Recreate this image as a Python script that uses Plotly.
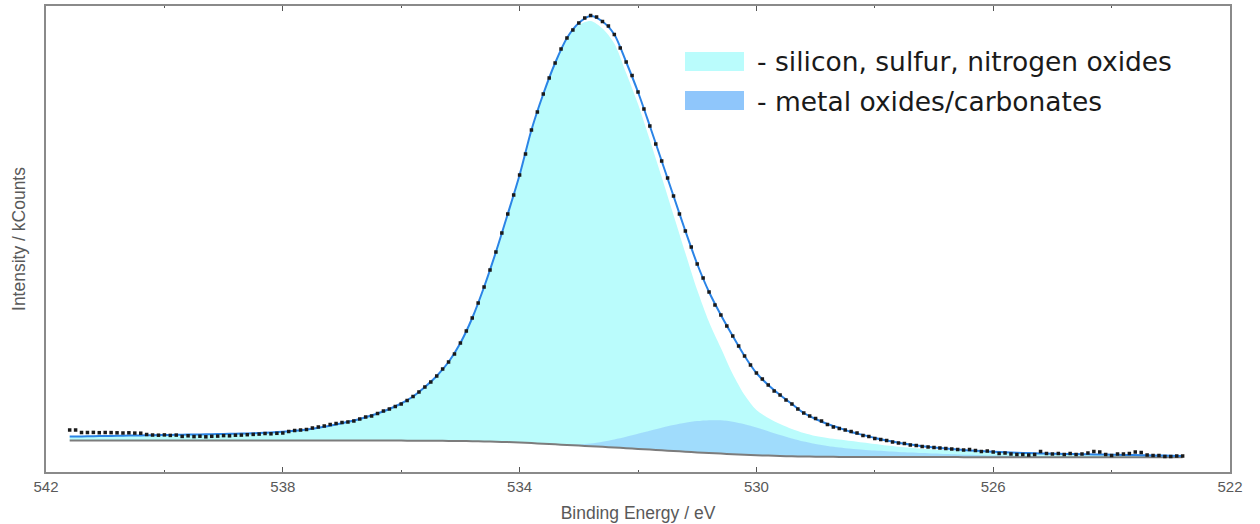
import numpy as np
import plotly.graph_objects as go

# Measured O 1s region, 0.1 eV steps from 541.6 eV down to 522.8 eV
be_start, be_stop = 541.6, 522.8
counts = [
    42, 42, 39.5, 39.5, 39.6, 39.3, 39.5, 39.4, 39.2, 39.0,
    39.2, 38.9, 38.8, 37.5, 37.0, 36.8, 37.1, 36.6, 36.9, 35.6,
    36.2, 35.4, 35.8, 35.2, 35.7, 35.9, 36.4, 36.2, 36.8, 36.9,
    37.3, 37.6, 37.9, 38.5, 38.2, 38.7, 39.0, 40.5, 41.5, 42.0,
    42.5, 44.0, 45.0, 46.0, 47.5, 48.5, 49.5, 50.0, 51.0, 53.0,
    55.0, 56.0, 58.5, 61.0, 63.0, 65.5, 68.0, 71.5, 75.5, 80.0,
    85.0, 90.0, 96.0, 103, 110, 118, 129, 141, 154, 169,
    185, 202, 220, 239, 258, 277, 297, 318, 342, 360,
    378, 394, 409, 423, 434, 442, 449, 454, 456.5, 455,
    450.5, 446, 437.5, 424, 410, 396.5, 380, 363, 346, 328,
    311, 294, 276, 258, 241, 225, 208, 194, 180, 167,
    157, 146, 136, 126, 116, 107, 99, 93, 87, 81,
    77, 72, 68, 63, 59, 56, 53.5, 51, 47.5, 45,
    43.5, 42, 40.5, 39, 36.5, 35.5, 33.5, 32.5, 31.5, 30,
    29, 28.5, 27, 26.5, 25.5, 25, 24.5, 24, 23.5, 23,
    22.5, 22, 22.5, 21.5, 20.5, 21, 20, 18.5, 19, 18,
    17.5, 17.5, 17, 17.5, 20.5, 18.5, 18, 18.5, 17.5, 18.5,
    17.5, 18, 19, 20.5, 20, 17.5, 16.5, 18, 18, 18.5,
    20, 19.5, 17, 16.5, 16.5, 15.5, 15.5, 16, 16,
]

# Fit curves, 0.2 eV steps over the same energy window
envelope = [
    35.5, 35.6, 35.8, 36.0, 36.2, 36.4, 36.6, 36.8, 37.0, 37.2,
    37.4, 37.6, 37.8, 38.0, 38.3, 38.6, 39.0, 39.5, 40.2, 41.2,
    42.5, 44.2, 46.3, 48.8, 51.5, 54.8, 58.5, 63.0, 68.5, 75.5,
    85, 96, 110, 129, 154, 185, 220, 258, 297, 342,
    378, 409, 434, 449, 456, 450.5, 437.5, 410, 380, 346,
    311, 276, 241, 208, 180, 157, 136, 116, 99, 87,
    77, 68, 59, 53, 48, 44, 40, 37, 34, 31.5,
    29.3, 27.4, 25.8, 24.5, 23.4, 22.4, 21.6, 20.9, 20.3, 19.8,
    19.3, 18.9, 18.6, 18.3, 18.1, 17.9, 17.7, 17.5, 17.3, 17.1,
    16.9, 16.7, 16.5, 16.3, 16.1,
]
oxides_si_s_n = [
    35.5, 35.6, 35.8, 36.0, 36.2, 36.4, 36.6, 36.8, 37.0, 37.2,
    37.4, 37.6, 37.8, 38.0, 38.3, 38.6, 39.0, 39.5, 40.2, 41.2,
    42.5, 44.2, 46.3, 48.8, 51.5, 54.8, 58.5, 63.0, 68.5, 75.5,
    85, 96, 110, 129, 154, 185, 220, 258, 297, 342,
    378, 409, 434, 447, 451, 443.5, 428.5, 399, 368, 332,
    295, 257, 219, 182, 150, 124, 98, 77, 62, 54,
    48, 43, 39, 36, 34, 32.5, 31, 29.5, 28, 26.5,
    25.3, 24.2, 23.2, 22.5, 21.9, 21.2, 20.6, 20.1, 19.7, 19.3,
    18.9, 18.5, 18.2, 17.9, 17.7, 17.5, 17.3, 17.1, 16.9, 16.7,
    16.5, 16.3, 16.1, 15.9, 15.7,
]
metal_oxides = [
    31.6, 31.6, 31.6, 31.6, 31.6, 31.6, 31.6, 31.6, 31.6, 31.6,
    31.6, 31.6, 31.6, 31.6, 31.6, 31.6, 31.6, 31.6, 31.6, 31.6,
    31.6, 31.5, 31.5, 31.5, 31.5, 31.4, 31.4, 31.4, 31.4, 31.3,
    31.3, 31.2, 31.1, 31.0, 30.8, 30.6, 30.3, 29.9, 29.5, 28.9,
    28.3, 27.8, 27.4, 27.6, 28.5, 30.3, 32.6, 35.3, 38.2, 41.2,
    44.2, 46.9, 49.2, 50.9, 51.8, 51.7, 50.3, 47.8, 44.5, 40.8,
    37.0, 33.5, 30.4, 27.9, 25.9, 24.4, 23.2, 22.2, 21.4, 20.7,
    20.1, 19.5, 19.0, 18.5, 18.0, 17.6, 17.2, 16.8, 16.5, 16.2,
    15.9, 15.7, 15.5, 15.3, 15.2, 15.1, 15.0, 14.9, 14.9, 14.8,
    14.8, 14.8, 14.8, 14.8, 14.8,
]
background = [
    31.6, 31.6, 31.6, 31.6, 31.6, 31.6, 31.6, 31.6, 31.6, 31.6,
    31.6, 31.6, 31.6, 31.6, 31.6, 31.6, 31.6, 31.6, 31.6, 31.6,
    31.6, 31.5, 31.5, 31.5, 31.5, 31.4, 31.4, 31.4, 31.4, 31.3,
    31.3, 31.2, 31.1, 31.0, 30.8, 30.6, 30.3, 29.9, 29.5, 28.9,
    28.3, 27.7, 27.0, 26.4, 25.8, 25.2, 24.5, 23.8, 23.1, 22.4,
    21.7, 21.0, 20.3, 19.6, 19.0, 18.4, 17.8, 17.3, 16.8, 16.4,
    16.0, 15.7, 15.5, 15.3, 15.2, 15.1, 15.0, 15.0, 14.9, 14.9,
    14.9, 14.9, 14.9, 14.9, 14.9, 14.9, 14.8, 14.8, 14.8, 14.8,
    14.8, 14.8, 14.8, 14.8, 14.8, 14.8, 14.8, 14.8, 14.8, 14.8,
    14.8, 14.8, 14.8, 14.8, 14.8,
]

x_ticks = [542, 538, 534, 530, 526, 522]
legend_labels = ["- silicon, sulfur, nitrogen oxides", "- metal oxides/carbonates"]

CYAN = "#bafcfc"
METAL = "rgba(143,198,251,0.6)"
METAL_KEY = "#8fc6fb"
FIT_BLUE = "#2b84e6"
AXIS_GREY = "#8a8a8a"
TEXT_GREY = "#595959"

be_data = np.round(np.linspace(be_start, be_stop, len(counts)), 2)
be_fit = np.round(np.linspace(be_start, be_stop, len(envelope)), 2)

fig = go.Figure()
spline = dict(shape="spline", smoothing=0.8)

# Component areas, each filled down to the background
fig.add_trace(go.Scatter(x=be_fit, y=background, mode="lines",
                         line=dict(width=0, **spline), hoverinfo="skip", showlegend=False))
fig.add_trace(go.Scatter(x=be_fit, y=oxides_si_s_n, mode="lines", fill="tonexty",
                         fillcolor=CYAN, line=dict(width=0, **spline),
                         name=legend_labels[0], showlegend=False))
fig.add_trace(go.Scatter(x=be_fit, y=background, mode="lines",
                         line=dict(width=0, **spline), hoverinfo="skip", showlegend=False))
fig.add_trace(go.Scatter(x=be_fit, y=metal_oxides, mode="lines", fill="tonexty",
                         fillcolor=METAL, line=dict(width=0, **spline),
                         name=legend_labels[1], showlegend=False))
# Background line
fig.add_trace(go.Scatter(x=be_fit, y=background, mode="lines",
                         line=dict(color="#7c7c7c", width=2, **spline), showlegend=False))
# Fit envelope
fig.add_trace(go.Scatter(x=be_fit, y=envelope, mode="lines",
                         line=dict(color=FIT_BLUE, width=2, **spline), showlegend=False))
# Measured points
fig.add_trace(go.Scatter(x=be_data, y=counts, mode="markers",
                         marker=dict(symbol="square", size=3.5, color="#1a1a1a"),
                         showlegend=False))

# Hand-placed key in the upper right
L, R, T, B = 46, 30, 6, 52
W, H = 1260, 524
pw, ph = W - L - R, H - T - B


def px(xp):
    return (xp - L) / pw


def py(yp):
    return (H - B - yp) / ph


key_rows = [(52, 71, CYAN), (91, 110, METAL_KEY)]
for (top, bot, col), label in zip(key_rows, legend_labels):
    fig.add_shape(type="rect", xref="paper", yref="paper",
                  x0=px(685), x1=px(744), y0=py(bot), y1=py(top),
                  fillcolor=col, line=dict(width=0), layer="above")
    fig.add_annotation(xref="paper", yref="paper", x=px(755), y=py((top + bot) / 2 + 0.5),
                       xanchor="left", yanchor="middle", showarrow=False, text=label,
                       font=dict(family="DejaVu Sans", size=26.5, color="#1a1a1a"))

axis_common = dict(showline=True, linecolor=AXIS_GREY, linewidth=2, mirror="ticks",
                   showgrid=False, zeroline=False)

fig.update_layout(
    width=W, height=H,
    margin=dict(l=L, r=R, t=T, b=B, autoexpand=False),
    paper_bgcolor="white", plot_bgcolor="white",
    font=dict(family="Liberation Sans", color=TEXT_GREY),
    xaxis=dict(range=[542, 522], tickmode="array", tickvals=x_ticks,
               ticks="inside", ticklen=5, tickwidth=1, tickcolor="#555555",
               minor=dict(tickmode="linear", tick0=540, dtick=4, ticks="inside",
                          ticklen=2, tickwidth=1, tickcolor="#555555"),
               tickfont=dict(size=15, color=TEXT_GREY),
               title=dict(text="Binding Energy / eV", font=dict(size=17.5, color=TEXT_GREY),
                          standoff=13),
               automargin=False, **axis_common),
    yaxis=dict(range=[0, 466], showticklabels=False, ticks="",
               title=dict(text="Intensity / kCounts", font=dict(size=17.5, color=TEXT_GREY),
                          standoff=14),
               automargin=False, **axis_common),
)

fig.write_html("out.html")
